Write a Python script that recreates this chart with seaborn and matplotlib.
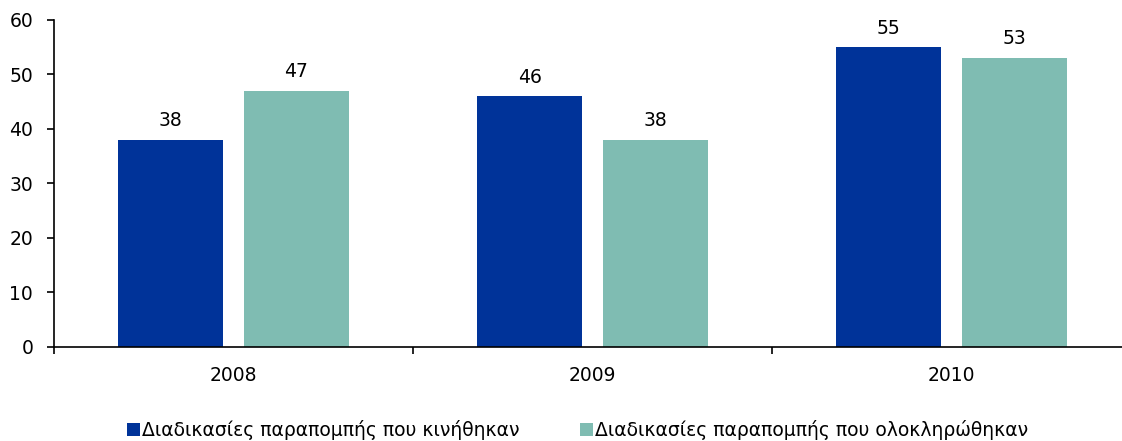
import matplotlib
matplotlib.use("Agg")
import matplotlib.pyplot as plt
import seaborn as sns
import pandas as pd
from matplotlib.patches import Patch

years = ["2008", "2009", "2010"]
started = [38, 46, 55]
completed = [47, 38, 53]
series_names = ["Διαδικασίες παραπομπής που κινήθηκαν",
                "Διαδικασίες παραπομπής που ολοκληρώθηκαν"]
colors = ["#003399", "#7fbcb2"]

df = pd.DataFrame({
    "year": years * 2,
    "value": started + completed,
    "series": [series_names[0]] * 3 + [series_names[1]] * 3,
})

sns.set_style("white")
plt.rcParams["font.family"] = ["DejaVu Sans"]

FS = 13.5

fig = plt.figure(figsize=(11.22, 4.41), dpi=100)
ax = fig.add_axes([0.0481, 0.2132, 0.96, 0.7415])

sns.barplot(data=df, x="year", y="value", hue="series", order=years,
            hue_order=series_names, palette=colors, width=0.702, gap=0.167,
            saturation=1, linewidth=0, ax=ax, legend=False)

for cont in ax.containers:
    ax.bar_label(cont, labels=[f"{v:.0f}" for v in cont.datavalues],
                 padding=7, fontsize=FS, color="#000000")

ax.set_ylim(0, 60)
ax.set_yticks(range(0, 61, 10))
ax.set_xlim(-0.5, 2.5)
ax.set_xticks([-0.5, 0.5, 1.5, 2.5])
ax.set_xticklabels([])
ax.set_xticks([0, 1, 2], minor=True)
ax.set_xticklabels(years, minor=True)
ax.tick_params(axis="x", which="major", direction="out", length=5, width=1.2, color="black", bottom=True)
ax.tick_params(axis="x", which="minor", length=0, pad=14, labelsize=FS, labelcolor="black")
ax.tick_params(axis="y", direction="out", length=5, width=1.2, color="black", left=True,
               labelsize=FS, pad=10, labelcolor="black")
ax.set_xlabel("")
ax.set_ylabel("")

for s in ["top", "right"]:
    ax.spines[s].set_visible(False)
for s in ["left", "bottom"]:
    ax.spines[s].set_color("black")
    ax.spines[s].set_linewidth(1.2)

handles = [Patch(facecolor=c, edgecolor="none") for c in colors]
fig.legend(handles, series_names, loc="center", bbox_to_anchor=(0.5147, 0.025),
           ncol=2, frameon=False, fontsize=FS, handlelength=0.7,
           handleheight=0.7, handletextpad=0.1, columnspacing=3.2,
           labelcolor="black")

fig.savefig("out.png", dpi=100)
